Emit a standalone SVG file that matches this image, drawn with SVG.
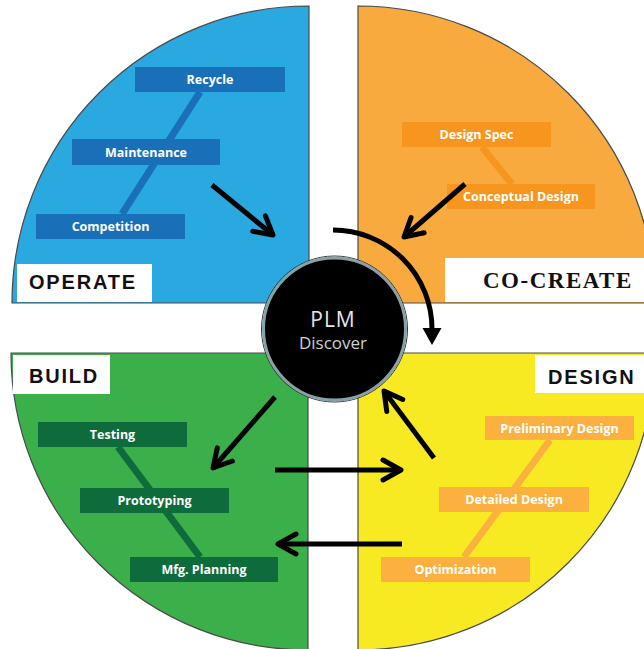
<svg xmlns="http://www.w3.org/2000/svg" width="644" height="649" viewBox="0 0 644 649">
<defs>
<style>
.quad{stroke:#4a4a4a;stroke-width:1.2}
.bar-text{font-family:"Open Sans","Liberation Sans",sans-serif;font-weight:700;font-size:12.5px;fill:#fff;text-anchor:middle}
.lbl{font-family:"Liberation Sans",Arial,sans-serif;font-weight:700;font-size:20px;letter-spacing:1.8px;fill:#111}
.lblserif{font-family:"Liberation Serif","Times New Roman",serif;font-weight:700;font-size:23px;letter-spacing:1.5px;fill:#111}
.arrow{fill:none;stroke:#000;stroke-width:5;marker-end:url(#chev)}
.spine{stroke-width:7;fill:none}
</style>
<marker id="chev" markerUnits="userSpaceOnUse" viewBox="-24 -14 30 28" markerWidth="30" markerHeight="28" refX="0" refY="0" orient="auto" overflow="visible">
<path d="M-18,-10 L0,0 L-18,10" fill="none" stroke="#000" stroke-width="5" stroke-linecap="round" stroke-linejoin="round"/>
</marker>
<marker id="tri" markerUnits="userSpaceOnUse" viewBox="-4 -12 22 24" markerWidth="22" markerHeight="24" refX="0" refY="0" orient="auto" overflow="visible">
<path d="M-2,-9.5 L15,0 L-2,9.5 Z" fill="#000"/>
</marker>
</defs>
<rect width="644" height="649" fill="#fff"/>

<g id="quadrants">
<g id="operate">
<path class="quad" d="M309,303 L12,303 A297,297 0 0 1 309,6 Z" fill="#2aa9e0"/>
<rect x="17" y="264" width="135" height="38" fill="#fff"/>
<text class="lbl" x="29" y="289">OPERATE</text>
</g>
<g id="co-create">
<path class="quad" d="M358,303 L358,6 A297,297 0 0 1 655,303 Z" fill="#f9aa3f"/>
<rect x="445" y="258" width="200" height="44" fill="#fff"/>
<text class="lblserif" x="483" y="288">CO-CREATE</text>
</g>
<g id="build">
<path class="quad" d="M308,353 L308,650 A297,297 0 0 1 11,353 Z" fill="#3bb04a"/>
<rect x="13" y="355" width="97" height="39" fill="#fff"/>
<text class="lbl" x="29" y="383">BUILD</text>
</g>
<g id="design">
<path class="quad" d="M358,353 L655,353 A297,297 0 0 1 358,650 Z" fill="#f8ea22"/>
<rect x="535" y="355" width="110" height="38" fill="#fff"/>
<text class="lbl" x="548" y="384">DESIGN</text>
</g>
</g>

<g id="links">
<line class="spine" x1="200" y1="92" x2="122" y2="214" stroke="#1a70b8"/>
<line class="spine" x1="482" y1="147" x2="512" y2="184" stroke="#f7961f"/>
<line class="spine" x1="118" y1="447" x2="200" y2="557" stroke="#0d6b3c"/>
<line class="spine" x1="550" y1="440" x2="464" y2="557" stroke="#fbb03f"/>
</g>

<g id="recycle"><rect x="135" y="67" width="150" height="25" fill="#1a70b8"/><text class="bar-text" x="210" y="84">Recycle</text></g>
<g id="maintenance"><rect x="72" y="139" width="148" height="26" fill="#1a70b8"/><text class="bar-text" x="146" y="156.5">Maintenance</text></g>
<g id="competition"><rect x="36" y="214" width="149" height="25" fill="#1a70b8"/><text class="bar-text" x="110.5" y="231">Competition</text></g>

<g id="design-spec"><rect x="402" y="122" width="149" height="25" fill="#f7961f"/><text class="bar-text" x="476.5" y="139">Design Spec</text></g>
<g id="conceptual-design"><rect x="447" y="184" width="148" height="25" fill="#f7961f"/><text class="bar-text" x="521" y="201">Conceptual Design</text></g>

<g id="testing"><rect x="38" y="422" width="149" height="25" fill="#0d6b3c"/><text class="bar-text" x="112.5" y="439">Testing</text></g>
<g id="prototyping"><rect x="80" y="488" width="149" height="25" fill="#0d6b3c"/><text class="bar-text" x="154.5" y="505">Prototyping</text></g>
<g id="mfg-planning"><rect x="130" y="557" width="148" height="25" fill="#0d6b3c"/><text class="bar-text" x="204" y="574">Mfg. Planning</text></g>

<g id="preliminary-design"><rect x="485" y="416" width="149" height="24" fill="#fbb03f"/><text class="bar-text" x="559.5" y="432.5">Preliminary Design</text></g>
<g id="detailed-design"><rect x="439" y="487" width="150" height="25" fill="#fbb03f"/><text class="bar-text" x="514" y="504">Detailed Design</text></g>
<g id="optimization"><rect x="381" y="557" width="149" height="25" fill="#fbb03f"/><text class="bar-text" x="455.5" y="574">Optimization</text></g>

<g id="plm">
<circle cx="334.5" cy="329" r="73" fill="none" stroke="#333" stroke-width="1"/>
<circle cx="334.5" cy="329" r="71" fill="#000" stroke="#86a2a8" stroke-width="3"/>
<text x="333" y="327" font-family="'Open Sans','Liberation Sans',sans-serif" font-size="21" letter-spacing="1" fill="#e6e6e6" text-anchor="middle">PLM</text>
<text x="333" y="349" font-family="'Open Sans','Liberation Sans',sans-serif" font-size="17" fill="#cfcfcf" text-anchor="middle">Discover</text>
</g>

<g id="connectors">
<line class="arrow" x1="212" y1="185" x2="273" y2="235"/>
<line class="arrow" x1="465" y1="184" x2="404" y2="237"/>
<line class="arrow" x1="275" y1="397" x2="213" y2="468"/>
<line class="arrow" x1="275" y1="470" x2="401" y2="470"/>
<line class="arrow" x1="402" y1="544" x2="278" y2="544"/>
<line class="arrow" x1="434" y1="458" x2="384" y2="391"/>
<path d="M333,230 A99,99 0 0 1 432,329 L432,330" fill="none" stroke="#000" stroke-width="5" marker-end="url(#tri)"/>
</g>
</svg>
